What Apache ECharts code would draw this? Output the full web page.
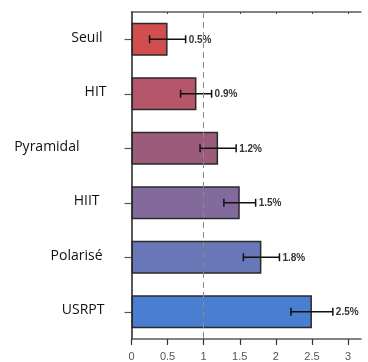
<!DOCTYPE html>
<html>
<head>
<meta charset="utf-8">
<script src="https://cdn.jsdelivr.net/npm/echarts@6/dist/echarts.min.js"></script>
<style>
  html, body { margin: 0; padding: 0; background: #fff; }
  #chart { width: 368px; height: 362px; }
</style>
</head>
<body>
<div id="chart"></div>
<script>
// Training methods, top to bottom
const categories = ['Seuil', 'HIT', 'Pyramidal', 'HIIT', 'Polarisé', 'USRPT'];
// Mean improvement (%)
const values = [0.5, 0.9, 1.2, 1.5, 1.8, 2.5];
// Error bar bounds
const errLow = [0.25, 0.68, 0.95, 1.28, 1.55, 2.21];
const errHigh = [0.75, 1.11, 1.45, 1.72, 2.05, 2.79];
// x axis ticks
const xTicks = [0, 0.5, 1, 1.5, 2, 2.5, 3];

const barColors = ['#d04e4e', '#b5566a', '#9b5c7c', '#826a9c', '#6777b7', '#4a7ed0'];
// extra right padding for each category name
const labelPad = [4, 0, 27, 7, 4, 2];

const rich = {};
categories.forEach((c, i) => {
  rich['c' + i] = {
    fontFamily: 'Open Sans', fontSize: 14, color: '#111',
    padding: [0, labelPad[i], 3, 0]
  };
});

const chart = echarts.init(document.getElementById('chart'), null, { renderer: 'canvas' });

const frameColor = '#5a5a5a';

chart.setOption({
  animation: false,
  backgroundColor: '#fff',
  grid: { left: 131.5, right: 7, top: 12, bottom: 23, containLabel: false },
  xAxis: [
    {
      type: 'value', min: 0, max: 3.18, position: 'bottom',
      splitLine: { show: false },
      axisLine: { show: true, lineStyle: { color: frameColor, width: 1.5 } },
      axisTick: { show: true, length: 6, customValues: xTicks, lineStyle: { color: '#333', width: 1.2 } },
      axisLabel: {
        customValues: xTicks, margin: 12, color: '#555',
        fontFamily: 'Liberation Sans', fontSize: 11,
        formatter: v => String(v)
      }
    },
    {
      type: 'value', min: 0, max: 3.18, position: 'top',
      splitLine: { show: false },
      axisLine: { show: true, lineStyle: { color: frameColor, width: 1.5 } },
      axisTick: { show: true, inside: true, length: 2, customValues: xTicks, lineStyle: { color: '#444', width: 1 } },
      axisLabel: { show: false }
    }
  ],
  yAxis: [
    {
      type: 'category', data: categories, inverse: true, position: 'left',
      axisLine: { show: true, lineStyle: { color: '#222', width: 1.5 } },
      axisTick: { show: true, length: 7, alignWithLabel: true, lineStyle: { color: '#555', width: 1.2 } },
      axisLabel: {
        margin: 25, align: 'right',
        formatter: (v, i) => '{c' + i + '|' + v + '}',
        rich: rich
      }
    },
    {
      type: 'category', data: categories, inverse: true, position: 'right',
      axisLine: { show: true, lineStyle: { color: frameColor, width: 1.5 } },
      axisTick: { show: true, length: 7, alignWithLabel: true, lineStyle: { color: '#555', width: 1.2 } },
      axisLabel: { show: false }
    }
  ],
  series: [
    {
      type: 'bar',
      xAxisIndex: 0, yAxisIndex: 0,
      barWidth: 33,
      data: values.map((v, i) => ({
        value: v,
        itemStyle: { color: barColors[i], borderColor: '#2a2a2a', borderWidth: 1.5 }
      })),
      markLine: {
        silent: true, symbol: 'none', z: 10,
        label: { show: false },
        lineStyle: { color: '#8a8a8a', type: [6, 4], width: 1 },
        data: [{ xAxis: 1 }]
      },
      z: 2
    },
    {
      type: 'custom',
      xAxisIndex: 0, yAxisIndex: 0,
      z: 5,
      data: values.map((v, i) => [errLow[i], errHigh[i], i, v]),
      renderItem: function (params, api) {
        const lo = api.value(0), hi = api.value(1), idx = api.value(2), v = api.value(3);
        const p1 = api.coord([lo, idx]);
        const p2 = api.coord([hi, idx]);
        const cap = 4;
        const style = { stroke: '#111', lineWidth: 1.5 };
        return {
          type: 'group',
          children: [
            { type: 'line', shape: { x1: p1[0], y1: p1[1], x2: p2[0], y2: p2[1] }, style: style },
            { type: 'line', shape: { x1: p1[0], y1: p1[1] - cap, x2: p1[0], y2: p1[1] + cap }, style: style },
            { type: 'line', shape: { x1: p2[0], y1: p2[1] - cap, x2: p2[0], y2: p2[1] + cap }, style: style },
            {
              type: 'text',
              style: {
                x: p2[0] + 3, y: p2[1] + 0.5,
                text: v + '%',
                fill: '#333',
                font: 'bold 10px "Liberation Sans", Arial, sans-serif',
                align: 'left', verticalAlign: 'middle'
              }
            }
          ]
        };
      }
    }
  ]
});
</script>
</body>
</html>
